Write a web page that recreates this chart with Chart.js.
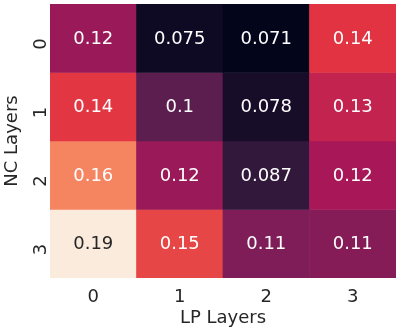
<!DOCTYPE html>
<html>
<head>
<meta charset="utf-8">
<script src="https://cdn.jsdelivr.net/npm/chart.js@4"></script>
<style>
  html, body { margin: 0; padding: 0; background: #fff; }
  #wrap { width: 400px; height: 329px; }
</style>
</head>
<body>
<div id="wrap"><canvas id="c" width="400" height="329"></canvas></div>
<script>
const lpLayers = ['0', '1', '2', '3'];
const ncLayers = ['0', '1', '2', '3'];
// one array per NC layer row, columns are LP layers
const row0 = [0.118, 0.075, 0.0706, 0.141];
const row1 = [0.142, 0.1, 0.078, 0.131];
const row2 = [0.163, 0.118, 0.087, 0.122];
const row3 = [0.194, 0.146, 0.11, 0.112];
const rows = [row0, row1, row2, row3];

// seaborn "rocket" colormap, sampled
const rocket = [
  [0, [3, 5, 26]],
  [1 / 7, [53, 25, 62]],
  [2 / 7, [112, 31, 87]],
  [3 / 7, [173, 23, 89]],
  [4 / 7, [225, 51, 66]],
  [5 / 7, [243, 118, 81]],
  [6 / 7, [246, 180, 143]],
  [1, [250, 235, 221]]
];

const allVals = rows.flat();
const vmin = Math.min(...allVals);
const vmax = Math.max(...allVals);

function cmap(v) {
  let t = (v - vmin) / (vmax - vmin);
  t = Math.max(0, Math.min(1, t));
  for (let i = 1; i < rocket.length; i++) {
    if (t <= rocket[i][0]) {
      const [t0, c0] = rocket[i - 1];
      const [t1, c1] = rocket[i];
      const f = (t - t0) / (t1 - t0);
      return c0.map((c, k) => Math.round(c + (c1[k] - c) * f));
    }
  }
  return rocket[rocket.length - 1][1];
}

function lum(rgb) {
  const l = rgb.map(c => {
    c = c / 255;
    return c <= 0.03928 ? c / 12.92 : Math.pow((c + 0.055) / 1.055, 2.4);
  });
  return 0.2126 * l[0] + 0.7152 * l[1] + 0.0722 * l[2];
}

const rgbStr = c => `rgb(${c[0]}, ${c[1]}, ${c[2]})`;

const datasets = rows.map((vals, r) => ({
  label: 'NC ' + ncLayers[r],
  data: vals.map(() => [r, r + 1]),
  values: vals,
  backgroundColor: vals.map(v => rgbStr(cmap(v))),
  borderWidth: 0,
  grouped: false,
  barPercentage: 1,
  categoryPercentage: 1
}));

const annotate = {
  id: 'annotate',
  afterDatasetsDraw(chart) {
    const ctx = chart.ctx;
    ctx.save();
    ctx.font = '18px "DejaVu Sans"';
    ctx.textAlign = 'center';
    ctx.textBaseline = 'middle';
    chart.data.datasets.forEach((ds, i) => {
      chart.getDatasetMeta(i).data.forEach((bar, j) => {
        const v = ds.values[j];
        const c = cmap(v);
        ctx.fillStyle = lum(c) > 0.408 ? '#262626' : '#ffffff';
        const y = (bar.y + bar.base) / 2;
        ctx.fillText(String(Number(v.toPrecision(2))), bar.x, y + 1);
      });
    });
    ctx.restore();
  }
};

const tickFont = { family: 'DejaVu Sans', size: 18 };

new Chart(document.getElementById('c'), {
  type: 'bar',
  data: { labels: lpLayers, datasets: datasets },
  plugins: [annotate],
  options: {
    responsive: false,
    animation: false,
    layout: { padding: { top: 4, right: 4, left: 0, bottom: 0 } },
    plugins: { legend: { display: false }, tooltip: { enabled: false } },
    scales: {
      x: {
        grid: { display: false, drawTicks: false },
        border: { display: false },
        ticks: { color: '#262626', font: tickFont, padding: 9 },
        title: { display: true, text: 'LP Layers', color: '#262626', font: tickFont, padding: 0 },
        afterFit(scale) {
          scale.height = 51;
          scale.paddingLeft = 0;
          scale.paddingRight = 0;
        }
      },
      y: {
        type: 'linear',
        min: 0,
        max: 4,
        reverse: true,
        grid: { display: false, drawTicks: false },
        border: { display: false },
        afterBuildTicks(scale) {
          scale.ticks = ncLayers.map((l, i) => ({ value: i + 0.5 }));
        },
        ticks: {
          color: '#262626',
          font: tickFont,
          minRotation: 90,
          maxRotation: 90,
          padding: 9,
          callback: (v) => ncLayers[Math.floor(v)]
        },
        title: { display: true, text: 'NC Layers', color: '#262626', font: tickFont, padding: { top: 2, bottom: 0 } },
        afterFit(scale) {
          scale.width = 50;
          scale.paddingTop = 0;
          scale.paddingBottom = 0;
        }
      }
    }
  }
});
</script>
</body>
</html>
